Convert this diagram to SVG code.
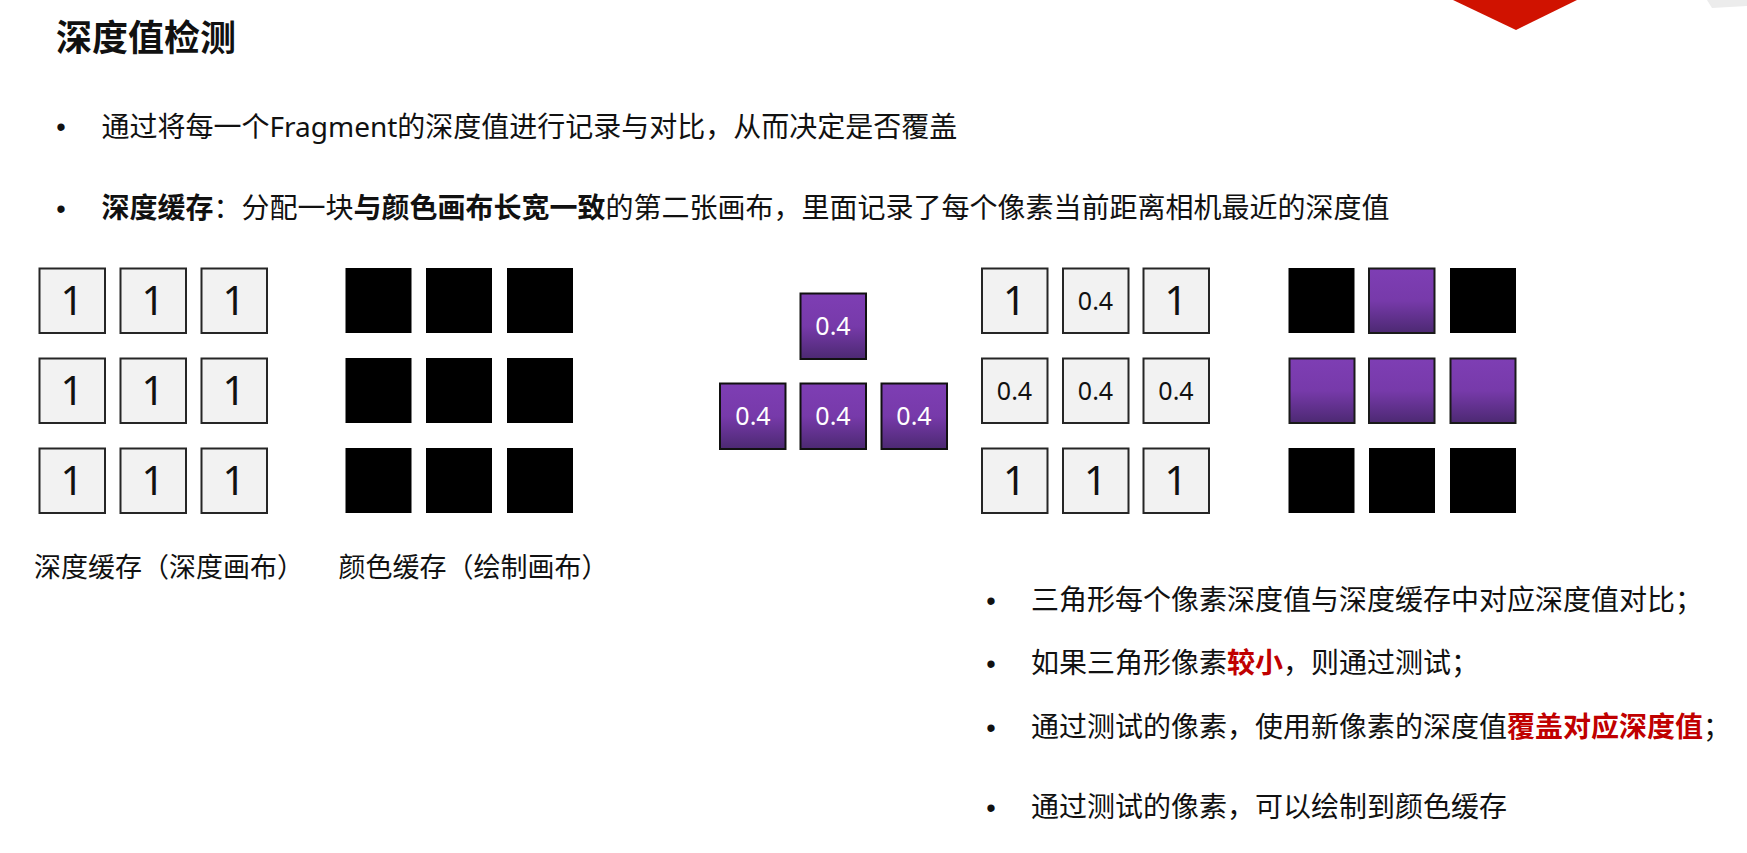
<svg xmlns="http://www.w3.org/2000/svg" width="1747" height="853" viewBox="0 0 1747 853">
  <style>
    .t { font-family: "Noto Sans", "Noto Sans CJK SC", sans-serif; fill: #111; }
    .body { font-size: 28px; }
    .b { font-weight: bold; }
    .red { fill: #c00000; font-weight: bold; }
    .bul { font-family: "Liberation Sans", sans-serif; font-size: 27px; fill: #111; text-anchor: middle; }
    .dbox { fill: #f2f2f2; stroke: #262626; stroke-width: 2; }
    .cbox { fill: #000; }
    .pbox { fill: url(#purp); stroke: #111; stroke-width: 2; }
    .pbox2 { fill: url(#purp); stroke: #1a1a1a; stroke-width: 2; }
    .one { font-family: "Noto Sans", sans-serif; font-size: 40px; fill: #111; text-anchor: middle; }
    .p4 { font-family: "Noto Sans", sans-serif; font-size: 25px; fill: #111; text-anchor: middle; }
    .w4 { font-family: "Noto Sans", sans-serif; font-size: 25px; fill: #fff; text-anchor: middle; }
    .lab { font-family: "Noto Sans", "Noto Sans CJK SC", sans-serif; font-size: 27px; fill: #111; }
  </style>
  <defs>
    <linearGradient id="purp" x1="0" y1="0" x2="0" y2="1">
      <stop offset="0" stop-color="#7e3eb4"/>
      <stop offset="0.5" stop-color="#773aaa"/>
      <stop offset="1" stop-color="#4c2972"/>
    </linearGradient>
  </defs>
  <rect width="1747" height="853" fill="#fff"/>

  <g id="decor">
    <polygon points="1453,0 1577,0 1516,30" fill="#d01200"/>
    <polygon points="1707,0 1747,0 1747,6 1712,8" fill="#ececec"/>
  </g>

  <g id="title">
    <text class="t b" x="56" y="51" font-size="36">深度值检测</text>
  </g>

  <g id="bullet1">
    <text class="bul" x="61" y="136">•</text>
    <text class="t body" x="101.5" y="136.5">通过将每一个Fragment的深度值进行记录与对比，从而决定是否覆盖</text>
  </g>

  <g id="bullet2">
    <text class="bul" x="61" y="217.5">•</text>
    <text class="t body" x="101.5" y="218"><tspan class="b">深度缓存</tspan>：分配一块<tspan class="b">与颜色画布长宽一致</tspan>的第二张画布，里面记录了每个像素当前距离相机最近的深度值</text>
  </g>

  <g id="depth-buffer-initial">
    <rect class="dbox" x="39.5" y="268.5" width="65.5" height="64.5"/>
    <rect class="dbox" x="120.5" y="268.5" width="65.5" height="64.5"/>
    <rect class="dbox" x="201.5" y="268.5" width="65.5" height="64.5"/>
    <rect class="dbox" x="39.5" y="358.5" width="65.5" height="64.5"/>
    <rect class="dbox" x="120.5" y="358.5" width="65.5" height="64.5"/>
    <rect class="dbox" x="201.5" y="358.5" width="65.5" height="64.5"/>
    <rect class="dbox" x="39.5" y="448.5" width="65.5" height="64.5"/>
    <rect class="dbox" x="120.5" y="448.5" width="65.5" height="64.5"/>
    <rect class="dbox" x="201.5" y="448.5" width="65.5" height="64.5"/>
    <text class="one" x="72" y="315">1</text>
    <text class="one" x="153" y="315">1</text>
    <text class="one" x="234" y="315">1</text>
    <text class="one" x="72" y="405">1</text>
    <text class="one" x="153" y="405">1</text>
    <text class="one" x="234" y="405">1</text>
    <text class="one" x="72" y="495">1</text>
    <text class="one" x="153" y="495">1</text>
    <text class="one" x="234" y="495">1</text>
  </g>

  <g id="color-buffer-initial">
    <rect class="cbox" x="345.5" y="268" width="66" height="65"/>
    <rect class="cbox" x="426" y="268" width="66" height="65"/>
    <rect class="cbox" x="507" y="268" width="66" height="65"/>
    <rect class="cbox" x="345.5" y="358" width="66" height="65"/>
    <rect class="cbox" x="426" y="358" width="66" height="65"/>
    <rect class="cbox" x="507" y="358" width="66" height="65"/>
    <rect class="cbox" x="345.5" y="448" width="66" height="65"/>
    <rect class="cbox" x="426" y="448" width="66" height="65"/>
    <rect class="cbox" x="507" y="448" width="66" height="65"/>
  </g>

  <g id="labels">
    <text class="lab" x="34" y="577">深度缓存（深度画布）</text>
    <text class="lab" x="338.5" y="577">颜色缓存（绘制画布）</text>
  </g>

  <g id="triangle-fragments">
    <rect class="pbox" x="800.5" y="293.5" width="65.5" height="65.5"/>
    <rect class="pbox" x="720" y="383.5" width="65.5" height="65.5"/>
    <rect class="pbox" x="800.5" y="383.5" width="65.5" height="65.5"/>
    <rect class="pbox" x="881.5" y="383.5" width="65.5" height="65.5"/>
    <text class="w4" x="833" y="335">0.4</text>
    <text class="w4" x="753" y="425">0.4</text>
    <text class="w4" x="833" y="425">0.4</text>
    <text class="w4" x="914" y="425">0.4</text>
  </g>

  <g id="depth-buffer-after">
    <rect class="dbox" x="982" y="268.5" width="65.5" height="64.5"/>
    <rect class="dbox" x="1063" y="268.5" width="65.5" height="64.5"/>
    <rect class="dbox" x="1143.5" y="268.5" width="65.5" height="64.5"/>
    <rect class="dbox" x="982" y="358.5" width="65.5" height="64.5"/>
    <rect class="dbox" x="1063" y="358.5" width="65.5" height="64.5"/>
    <rect class="dbox" x="1143.5" y="358.5" width="65.5" height="64.5"/>
    <rect class="dbox" x="982" y="448.5" width="65.5" height="64.5"/>
    <rect class="dbox" x="1063" y="448.5" width="65.5" height="64.5"/>
    <rect class="dbox" x="1143.5" y="448.5" width="65.5" height="64.5"/>
    <text class="one" x="1014.5" y="315">1</text>
    <text class="p4" x="1095.5" y="310">0.4</text>
    <text class="one" x="1176" y="315">1</text>
    <text class="p4" x="1014.5" y="400">0.4</text>
    <text class="p4" x="1095.5" y="400">0.4</text>
    <text class="p4" x="1176" y="400">0.4</text>
    <text class="one" x="1014.5" y="495">1</text>
    <text class="one" x="1095.5" y="495">1</text>
    <text class="one" x="1176" y="495">1</text>
  </g>

  <g id="color-buffer-after">
    <rect class="cbox" x="1288.5" y="268" width="66" height="65"/>
    <rect class="pbox2" x="1369" y="268.5" width="65.5" height="64.5"/>
    <rect class="cbox" x="1450" y="268" width="66" height="65"/>
    <rect class="pbox2" x="1289.5" y="358.5" width="65" height="64.5"/>
    <rect class="pbox2" x="1369" y="358.5" width="65.5" height="64.5"/>
    <rect class="pbox2" x="1450.5" y="358.5" width="65" height="64.5"/>
    <rect class="cbox" x="1288.5" y="448" width="66" height="65"/>
    <rect class="cbox" x="1369" y="448" width="66" height="65"/>
    <rect class="cbox" x="1450" y="448" width="66" height="65"/>
  </g>

  <g id="rules">
    <text class="bul" x="991" y="609.5">•</text>
    <text class="t body" x="1031" y="610">三角形每个像素深度值与深度缓存中对应深度值对比；</text>
    <text class="bul" x="991" y="672.5">•</text>
    <text class="t body" x="1031" y="673">如果三角形像素<tspan class="red">较小</tspan>，则通过测试；</text>
    <text class="bul" x="991" y="736.5">•</text>
    <text class="t body" x="1031" y="737">通过测试的像素，使用新像素的深度值<tspan class="red">覆盖对应深度值</tspan>；</text>
    <text class="bul" x="991" y="816.5">•</text>
    <text class="t body" x="1031" y="817">通过测试的像素，可以绘制到颜色缓存</text>
  </g>
</svg>
